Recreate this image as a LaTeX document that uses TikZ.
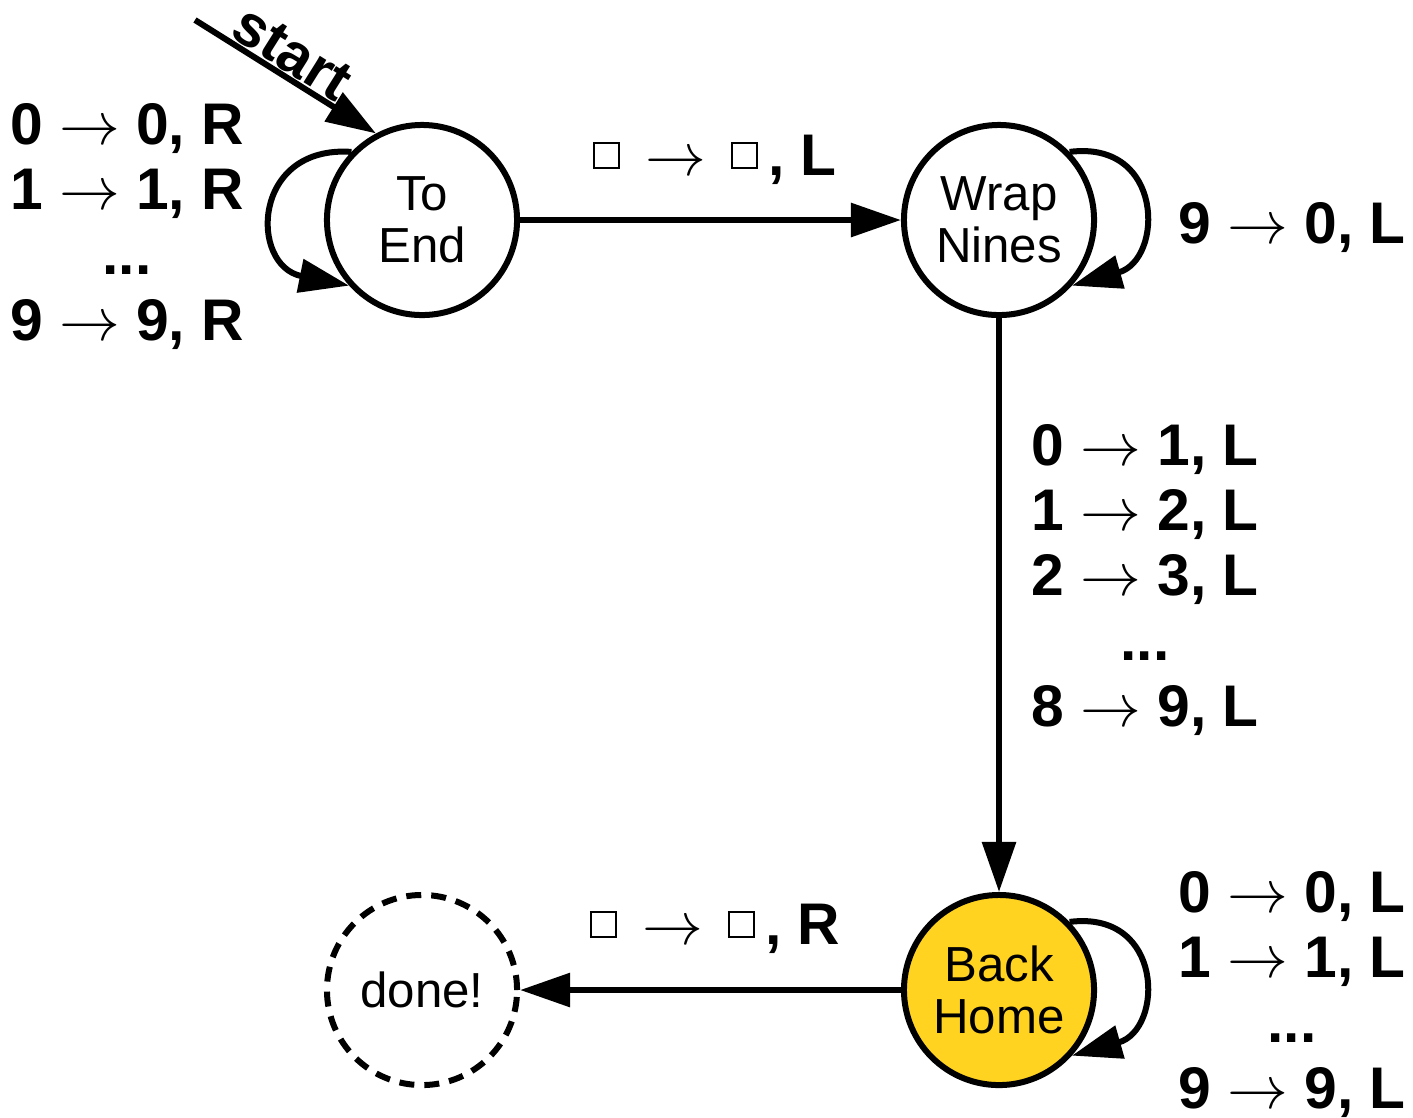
\documentclass[tikz,border=0pt]{standalone}
\usepackage{fontspec}
\setmainfont{Liberation Sans}
\usetikzlibrary{arrows.meta}
\definecolor{homeyellow}{RGB}{255,211,32}
\newcommand{\tmblank}{\raisebox{0.08cm}{\setlength{\fboxsep}{0pt}\setlength{\fboxrule}{0.6pt}\fbox{\rule{0pt}{0.23cm}\rule{0.23cm}{0pt}}}}
\begin{document}
\begin{tikzpicture}[x=0.01cm,y=-0.01cm,
  state/.style={circle,draw,line width=0.06cm,minimum size=1.90cm,inner sep=0pt,align=center,font=\fontsize{14}{14.8}\selectfont},
  edge/.style={line width=0.06cm,-{Triangle[length=0.5cm,width=0.33cm]}},
  lab/.style={font=\fontsize{16.7}{18.5}\selectfont\bfseries,align=center,inner sep=0pt}]
\useasboundingbox (0,0) rectangle (1413,1117);
\node[state] (te) at (422,220) {To\\End};
\node[state] (wn) at (999,220) {Wrap\\Nines};
\node[state,fill=homeyellow] (bh) at (999,990) {Back\\Home};
\node[state,dash pattern=on 0.15cm off 0.10cm] (dn) at (422,990) {done!};
\coordinate (st) at (195,20);
\draw[edge] (st) -- (te.118) node[pos=0.47,sloped,above=0.01cm,lab] (lst) {start};
\draw[edge] (te.136) .. controls +(-100,-7) and +(-100,-20) .. (te.222);
\draw[edge] (wn.44) .. controls +(95,-12) and +(92,-26) .. (wn.-42);
\draw[edge] (bh.44) .. controls +(95,-12) and +(92,-26) .. (bh.-42);
\draw[edge] (te) -- (wn);
\draw[edge] (wn) -- (bh);
\draw[edge] (bh) -- (dn);
\node[lab,anchor=base] (l1) at (127,340) {0 $\rightarrow$ 0, R\\1 $\rightarrow$ 1, R\\...\\9 $\rightarrow$ 9, R};
\node[lab,anchor=base] (l2) at (715,175) {\tmblank\hspace{0.25cm}$\rightarrow$\hspace{0.25cm}\tmblank\hspace{0.1cm}, L};
\node[lab,anchor=base] (l3) at (1292,243) {9 $\rightarrow$ 0, L};
\node[lab,anchor=base] (l4) at (1145,726) {0 $\rightarrow$ 1, L\\1 $\rightarrow$ 2, L\\2 $\rightarrow$ 3, L\\...\\8 $\rightarrow$ 9, L};
\node[lab,anchor=base] (l5) at (715,944) {\tmblank\hspace{0.25cm}$\rightarrow$\hspace{0.25cm}\tmblank\hspace{0.1cm}, R};
\node[lab,anchor=base] (l6) at (1292,1108) {0 $\rightarrow$ 0, L\\1 $\rightarrow$ 1, L\\...\\9 $\rightarrow$ 9, L};
\end{tikzpicture}
\end{document}
